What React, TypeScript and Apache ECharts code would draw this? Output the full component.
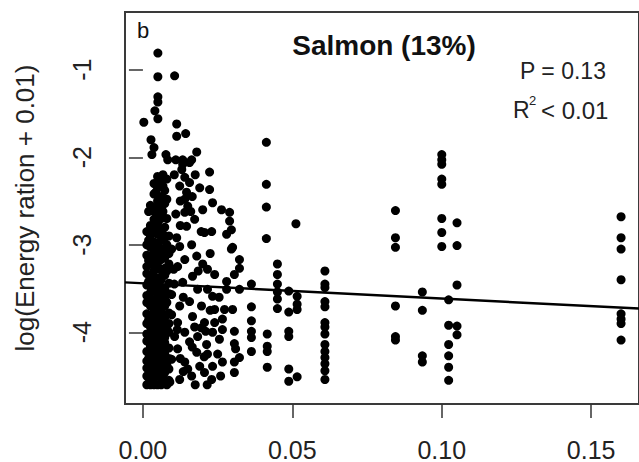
import React, { useEffect, useRef } from "react";
import * as echarts from "echarts";

const xTicks = [0, 0.05, 0.1, 0.15];
const yTicks = [-4, -3, -2, -1];

// dense band near x = 0 (column x values, and their y values)
const denseColX = [0.0013, 0.0019, 0.0025, 0.0037, 0.0043, 0.0049, 0.0061, 0.0067, 0.0073, 0.008, 0.0087];
const denseColY = [
  [-2.85, -3.0, -3.12, -3.25, -3.33, -3.46, -3.58, -3.66, -3.79, -3.9, -4.02, -4.1, -4.22, -4.33, -4.41, -4.5, -4.6],
  [-2.62, -2.95, -3.18, -3.42, -3.64, -3.86, -4.08, -4.3, -4.52],
  [-2.55, -2.78, -2.9, -3.03, -3.15, -3.22, -3.36, -3.48, -3.55, -3.7, -3.82, -3.94, -4.05, -4.16, -4.27, -4.38, -4.47, -4.6],
  [-2.3, -2.42, -2.62, -2.71, -2.84, -2.97, -3.08, -3.2, -3.3, -3.42, -3.53, -3.63, -3.76, -3.86, -3.98, -4.09, -4.2, -4.3, -4.44, -4.53, -4.6],
  [-2.4, -2.58, -2.8, -3.05, -3.27, -3.5, -3.68, -3.97, -4.2, -4.4],
  [-2.22, -2.35, -2.5, -2.66, -2.75, -2.88, -3.0, -3.12, -3.24, -3.38, -3.47, -3.6, -3.72, -3.8, -3.92, -4.04, -4.14, -4.25, -4.36, -4.48, -4.6],
  [-2.28, -2.45, -2.58, -2.7, -2.82, -2.95, -3.05, -3.17, -3.29, -3.4, -3.52, -3.65, -3.75, -3.88, -3.96, -4.08, -4.19, -4.3, -4.41, -4.52, -4.6],
  [-2.2, -2.33, -2.62, -2.88, -3.1, -3.32, -3.57, -3.8, -4.02, -4.25, -4.5],
  [-2.38, -2.53, -2.8, -2.92, -3.04, -3.15, -3.27, -3.35, -3.5, -3.62, -3.7, -3.83, -3.94, -4.06, -4.12, -4.24, -4.35, -4.46, -4.57],
  [-2.25, -2.48, -2.7, -3.0, -3.3, -3.66, -3.96, -4.36, -4.6],
  [-2.9, -3.1, -3.22, -3.44, -3.56, -3.78, -3.9, -4.0, -4.18, -4.3, -4.42, -4.55],
];

// upper scattered points
const topPoints = [
  [0.005, -0.81], [0.005, -1.08], [0.0106, -1.07], [0.005, -1.31], [0.005, -1.37], [0.004, -1.47],
  [0.0003, -1.6], [0.005, -1.56], [0.0113, -1.62], [0.0113, -1.76], [0.0143, -1.73], [0.0027, -1.8],
  [0.0037, -1.89], [0.003, -1.97], [0.0077, -1.97], [0.0083, -2.03], [0.011, -2.03], [0.0133, -2.03],
  [0.0163, -2.03], [0.018, -1.94], [0.0156, -2.06], [0.013, -2.14], [0.0223, -2.17], [0.0223, -2.37],
  [0.0233, -2.52], [0.02, -2.6], [0.029, -2.63], [0.029, -2.73], [0.0263, -2.6], [0.028, -2.88],
  [0.03, -3.03], [0.0413, -1.83], [0.0413, -2.31], [0.0413, -2.57], [0.0413, -2.93], [0.0512, -2.76],
];

// second cluster 0.01 - 0.03
const midPoints = [
  [0.0133, -2.08], [0.014, -2.23], [0.0156, -2.29], [0.0123, -2.33], [0.0146, -2.4], [0.014, -2.48],
  [0.015, -2.56], [0.014, -2.63], [0.0173, -2.71], [0.0146, -2.79], [0.0206, -2.86], [0.023, -2.85],
  [0.0113, -2.92], [0.0123, -3.02], [0.0163, -3.0], [0.018, -3.13], [0.02, -3.22], [0.014, -3.17],
  [0.0116, -3.25], [0.0216, -3.28], [0.024, -3.34], [0.0166, -3.36], [0.0133, -3.43], [0.0183, -3.51],
  [0.0216, -3.51], [0.0233, -3.59], [0.0156, -3.65], [0.0123, -3.7], [0.0196, -3.7], [0.024, -3.74],
  [0.0273, -3.74], [0.0166, -3.82], [0.0116, -3.89], [0.0206, -3.89], [0.024, -3.89], [0.014, -4.0],
  [0.0106, -4.05], [0.0183, -4.05], [0.0233, -4.0], [0.0156, -4.11], [0.0213, -4.14], [0.0116, -4.19],
  [0.018, -4.23], [0.0216, -4.25], [0.014, -4.34], [0.019, -4.39], [0.0233, -4.39], [0.0163, -4.5],
  [0.0206, -4.46], [0.0123, -4.54], [0.023, -4.54], [0.009, -4.57], [0.0096, -3.57], [0.0096, -3.8],
  [0.0096, -4.31], [0.0173, -3.94], [0.015, -4.42], [0.0256, -4.08], [0.025, -4.25], [0.011, -2.65],
  [0.0096, -3.05], [0.0103, -3.28],
  [0.0105, -2.2], [0.0125, -2.5], [0.0165, -2.45], [0.0175, -2.2], [0.019, -2.35], [0.0195, -2.85],
  [0.0125, -2.78], [0.016, -2.62], [0.0185, -3.3], [0.0225, -3.1], [0.0135, -3.6], [0.0105, -3.45],
  [0.0195, -3.95], [0.0225, -3.75], [0.0125, -4.3], [0.0175, -4.6], [0.0215, -4.6], [0.0135, -4.45],
  [0.0205, -4.28], [0.0165, -4.17], [0.0115, -3.97], [0.0255, -3.6], [0.026, -4.5], [0.021, -3.99],
  [0.0296, -2.83], [0.0296, -3.05], [0.0323, -3.17], [0.0323, -3.27], [0.0306, -3.34], [0.028, -3.42],
  [0.028, -3.51], [0.0323, -3.51], [0.03, -3.74], [0.0266, -3.85], [0.0266, -3.97], [0.0306, -3.99],
  [0.0306, -4.13], [0.031, -4.19], [0.0323, -4.29], [0.0306, -4.34], [0.0306, -4.46], [0.0266, -4.34],
];

// sparse columns further right
const sparseColX = [0.0363, 0.0416, 0.045, 0.0488, 0.0516, 0.0609, 0.0845, 0.0935, 0.1, 0.1023, 0.1051, 0.16];
const sparseColY = [
  [-3.45, -3.71, -3.87, -3.99, -4.06, -4.22],
  [-4.02, -4.16, -4.22, -4.4],
  [-3.22, -3.34, -3.45, -3.54, -3.62, -3.73],
  [-3.53, -3.77, -3.99, -4.05, -4.42, -4.56],
  [-3.59, -3.68, -3.74, -4.51],
  [-3.3, -3.45, -3.49, -3.65, -3.71, -3.89, -3.94, -4.02, -4.14, -4.22, -4.29, -4.36, -4.44, -4.54],
  [-2.61, -2.92, -3.03, -3.7, -4.05, -4.09],
  [-3.54, -3.75, -4.27, -4.34],
  [-1.97, -2.03, -2.08, -2.25, -2.31, -2.7, -2.86, -3.02],
  [-3.63, -3.92, -4.14, -4.27, -4.4, -4.55],
  [-2.75, -3.01, -3.46, -3.93, -4.03],
  [-2.68, -2.92, -3.05, -3.4, -3.79, -3.85, -3.9, -4.09],
];

// fitted regression line end points
const fitLine = [
  [-0.006, -3.43],
  [0.166, -3.73],
];

const FONT = "'Liberation Sans', Arial, Helvetica, sans-serif";

export default function App() {
  const ref = useRef<HTMLDivElement>(null);
  useEffect(() => {
    if (!ref.current) return;
    const chart = echarts.init(ref.current, null, { renderer: "svg" });
    const points: number[][] = [];
    denseColX.forEach((x, i) => denseColY[i].forEach((y) => points.push([x, y])));
    sparseColX.forEach((x, i) => sparseColY[i].forEach((y) => points.push([x, y])));
    topPoints.forEach((p) => points.push(p));
    midPoints.forEach((p) => points.push(p));

    chart.setOption({
      animation: false,
      backgroundColor: "#ffffff",
      grid: {
        left: 125,
        top: 12,
        width: 518,
        height: 393,
        show: true,
        borderColor: "#3a3a3a",
        borderWidth: 2,
        backgroundColor: "transparent",
      },
      xAxis: {
        type: "value",
        min: -0.006,
        max: 0.166,
        axisLine: { show: false },
        splitLine: { show: false },
        axisTick: {
          show: true,
          customValues: xTicks,
          length: 14,
          inside: false,
          lineStyle: { color: "#333", width: 1.5 },
        },
        axisLabel: {
          customValues: xTicks,
          formatter: (v: number) => v.toFixed(2),
          margin: 33,
          fontSize: 25,
          color: "#222",
          fontFamily: FONT,
        },
      },
      yAxis: {
        type: "value",
        min: -4.82,
        max: -0.34,
        axisLine: { show: false },
        splitLine: { show: false },
        axisTick: {
          show: true,
          customValues: yTicks,
          length: 14,
          inside: false,
          lineStyle: { color: "#333", width: 1.5 },
        },
        axisLabel: {
          customValues: yTicks,
          formatter: (v: number) => String(v),
          rotate: 90,
          margin: 31,
          fontSize: 25,
          color: "#222",
          fontFamily: FONT,
        },
      },
      series: [
        {
          type: "scatter",
          data: points,
          symbol: "circle",
          symbolSize: 9,
          itemStyle: { color: "#000", opacity: 1 },
          silent: true,
        },
        {
          type: "line",
          data: fitLine,
          symbol: "none",
          lineStyle: { color: "#000", width: 2.5 },
          silent: true,
          z: 5,
        },
      ],
      graphic: [
        {
          type: "text",
          x: 25,
          y: 208,
          rotation: Math.PI / 2,
          style: {
            text: "log(Energy ration + 0.01)",
            fontSize: 26,
            fontFamily: FONT,
            fill: "#222",
            align: "center",
            verticalAlign: "middle",
          },
        },
        {
          type: "text",
          x: 384,
          y: 45,
          style: {
            text: "Salmon (13%)",
            fontSize: 28,
            fontWeight: "bold",
            fontFamily: FONT,
            fill: "#111",
            align: "center",
            verticalAlign: "middle",
          },
        },
        {
          type: "text",
          x: 143,
          y: 30,
          style: {
            text: "b",
            fontSize: 22,
            fontFamily: FONT,
            fill: "#111",
            align: "center",
            verticalAlign: "middle",
          },
        },
        {
          type: "text",
          x: 563,
          y: 71,
          style: {
            text: "P = 0.13",
            fontSize: 23,
            fontFamily: FONT,
            fill: "#222",
            align: "center",
            verticalAlign: "middle",
          },
        },
        {
          type: "text",
          x: 513,
          y: 110,
          style: {
            text: "R",
            fontSize: 23,
            fontFamily: FONT,
            fill: "#222",
            align: "left",
            verticalAlign: "middle",
          },
        },
        {
          type: "text",
          x: 529,
          y: 100,
          style: {
            text: "2",
            fontSize: 13,
            fontFamily: FONT,
            fill: "#222",
            align: "left",
            verticalAlign: "middle",
          },
        },
        {
          type: "text",
          x: 541,
          y: 110,
          style: {
            text: "< 0.01",
            fontSize: 24,
            fontFamily: FONT,
            fill: "#222",
            align: "left",
            verticalAlign: "middle",
          },
        },
      ],
    });
    return () => chart.dispose();
  }, []);
  return (
    <div
      ref={ref}
      style={{ position: "fixed", left: 0, top: 0, width: 639, height: 462, overflow: "hidden" }}
    />
  );
}
